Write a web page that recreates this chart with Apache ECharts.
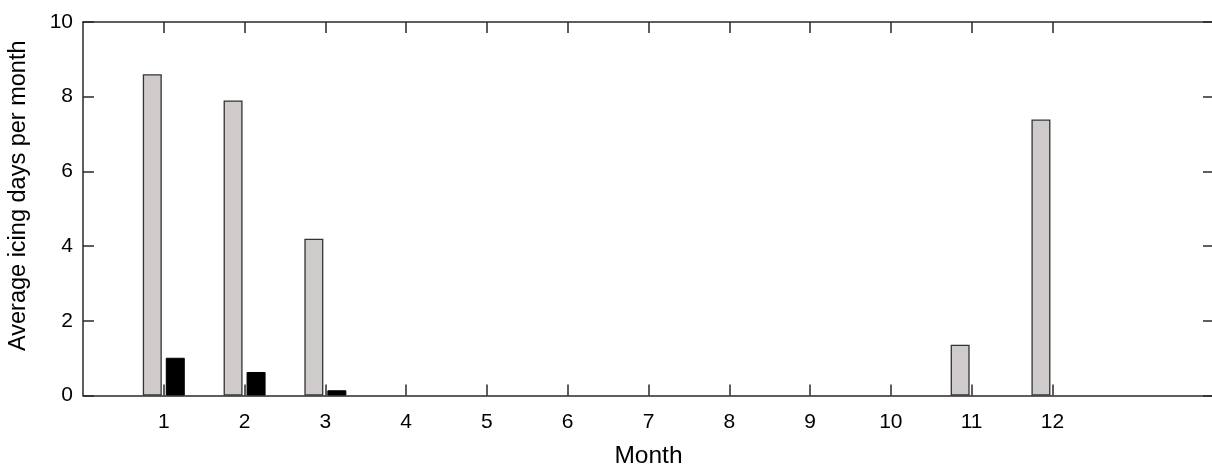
<!DOCTYPE html>
<html>
<head>
<meta charset="utf-8">
<script src="https://cdn.jsdelivr.net/npm/echarts@6/dist/echarts.min.js"></script>
<style>html,body{margin:0;padding:0;background:#fff}#c{width:1212px;height:468px}</style>
</head>
<body>
<div id="c"></div>
<script>
const months = [1,2,3,4,5,6,7,8,9,10,11,12];
const grayValues = [8.6, 7.9, 4.2, 0, 0, 0, 0, 0, 0, 0, 1.36, 7.39];
const blackValues = [1.01, 0.63, 0.14, 0, 0, 0, 0, 0, 0, 0, 0, 0];
const yTicks = [0, 2, 4, 6, 8, 10];

const font = 'Liberation Sans, Arial, Helvetica, sans-serif';
const lineStyle = {color: '#2a2a2a', width: 1.5};
const chart = echarts.init(document.getElementById('c'));
const baseX = {
  type: 'value', min: 0, max: 14, interval: 1,
  axisLine: {show: true, lineStyle: lineStyle, onZero: false},
  axisTick: {show: true, inside: true, length: 11, lineStyle: lineStyle, customValues: months},
  splitLine: {show: false}
};
const baseY = {
  type: 'value', min: 0, max: 10, interval: 2,
  axisLine: {show: true, lineStyle: lineStyle, onZero: false},
  axisTick: {show: true, inside: true, length: 11, lineStyle: lineStyle, customValues: yTicks},
  splitLine: {show: false}
};
const toData = vals => months.map((m, i) => [m, vals[i] === 0 ? '-' : vals[i]]);
chart.setOption({
  animation: false,
  backgroundColor: '#fff',
  grid: {left: 83, top: 22, width: 1131, height: 373.5, containLabel: false, outerBoundsMode: 'none'},
  xAxis: [
    Object.assign({}, baseX, {
      position: 'bottom',
      name: 'Month', nameLocation: 'middle', nameGap: 48,
      nameTextStyle: {fontFamily: font, fontSize: 24.5, color: '#000'},
      axisLabel: {show: true, customValues: months, margin: 16, fontFamily: font, fontSize: 21, color: '#000'}
    }),
    Object.assign({}, baseX, {position: 'top', axisLabel: {show: false}})
  ],
  yAxis: [
    Object.assign({}, baseY, {
      position: 'left',
      name: 'Average icing days per month', nameLocation: 'middle', nameGap: 52,
      nameTextStyle: {fontFamily: font, fontSize: 23.5, color: '#000', padding: [0, 0, 0, 26]},
      axisLabel: {show: true, margin: 10, fontFamily: font, fontSize: 21, color: '#000'}
    }),
    Object.assign({}, baseY, {position: 'right', axisLabel: {show: false}})
  ],
  series: [
    {
      type: 'bar', xAxisIndex: 0, yAxisIndex: 0,
      data: toData(grayValues),
      barWidth: 19, barGap: '21%',
      itemStyle: {color: '#cfcbcb', borderColor: '#333', borderWidth: 1.3}
    },
    {
      type: 'bar', xAxisIndex: 0, yAxisIndex: 0,
      data: toData(blackValues),
      barWidth: 19, barGap: '21%',
      itemStyle: {color: '#000', borderColor: '#000', borderWidth: 1}
    }
  ]
});
</script>
</body>
</html>
